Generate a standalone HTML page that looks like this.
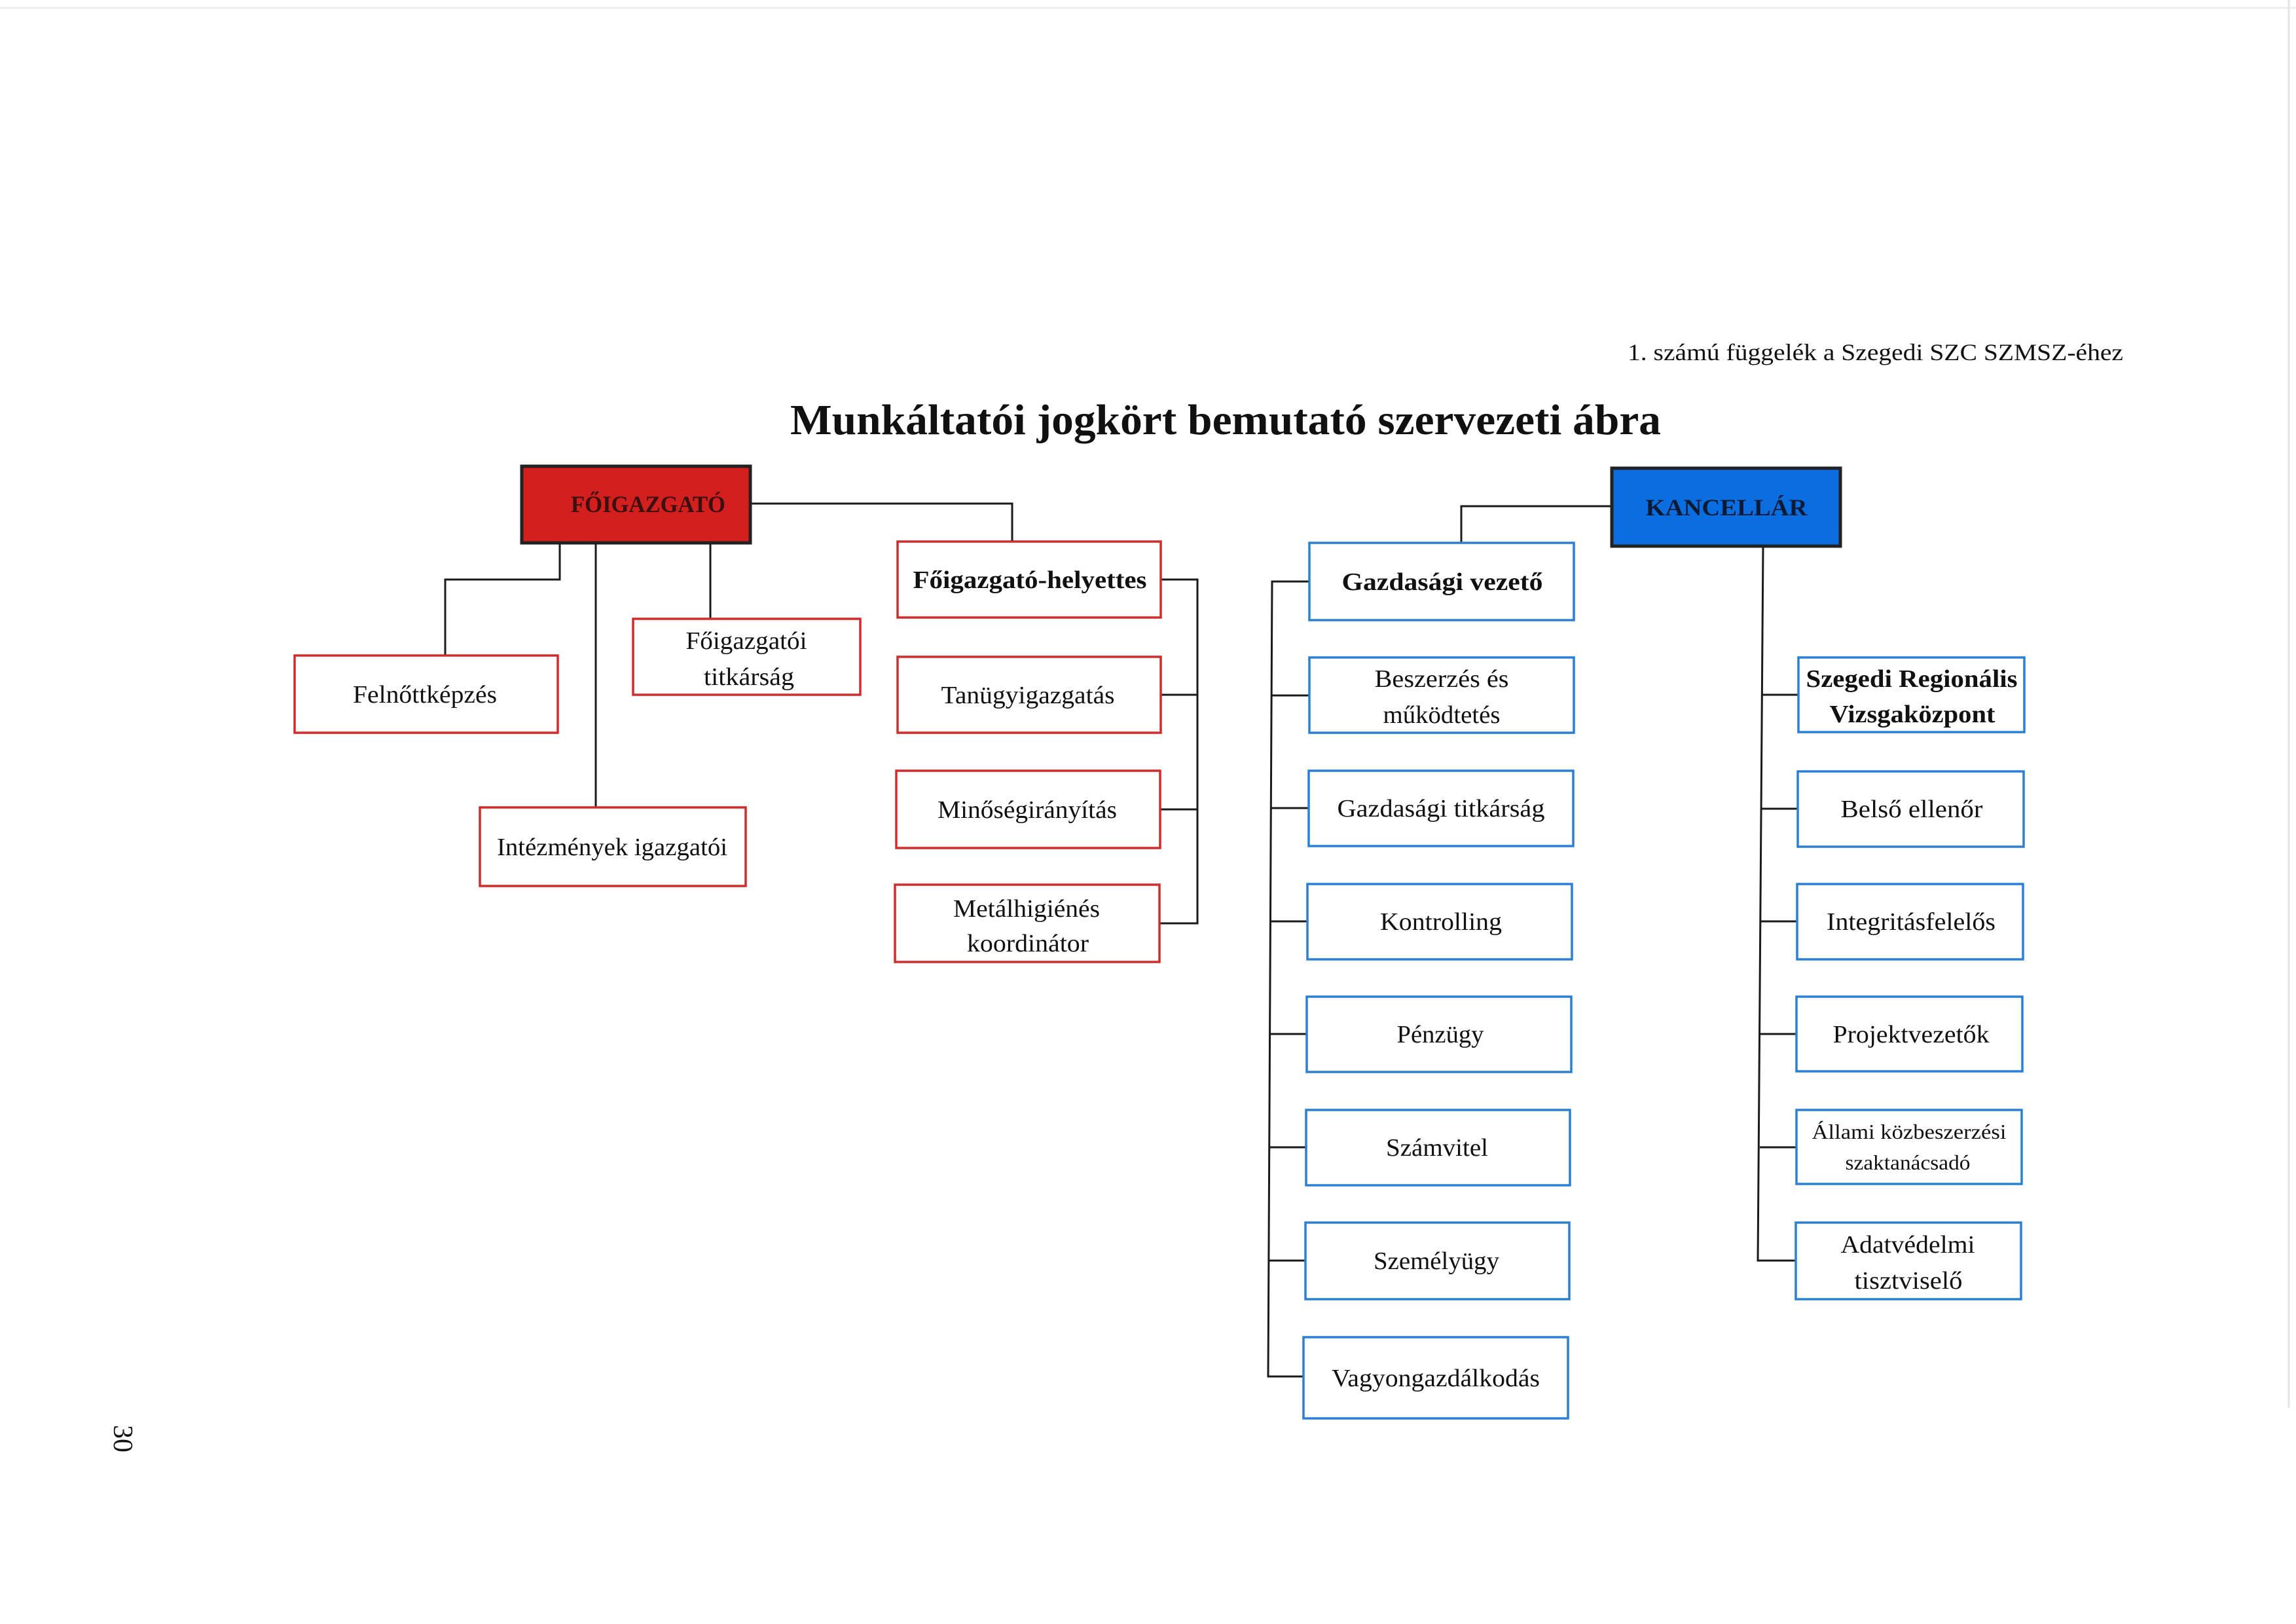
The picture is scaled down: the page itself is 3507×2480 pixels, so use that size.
<!DOCTYPE html>
<html><head><meta charset="utf-8">
<style>
html,body{margin:0;padding:0;background:#fff;}
svg{display:block;}
text{font-family:"Liberation Serif","DejaVu Serif",serif;fill:#111;}
.r{fill:#fff;stroke:#d62a2a;stroke-width:3.5;}
.b{fill:#fff;stroke:#2a7fd6;stroke-width:3.5;}
.l{stroke:#1a1a1a;stroke-width:3;fill:none;}
.t{font-size:38px;}
.bd{font-size:38px;font-weight:bold;}
</style></head>
<body>
<svg width="3507" height="2480" viewBox="0 0 3507 2480" xmlns="http://www.w3.org/2000/svg">
<rect width="3507" height="2480" fill="#fff"/>
<line x1="0" y1="12" x2="3507" y2="12" stroke="#eee" stroke-width="3"/>
<line x1="3496" y1="0" x2="3496" y2="2150" stroke="#e4e4e4" stroke-width="3"/>

<text x="2486" y="550" font-size="36" textLength="757" lengthAdjust="spacingAndGlyphs">1. számú függelék a Szegedi SZC SZMSZ-éhez</text>
<text x="1207" y="663" font-size="66" font-weight="bold" textLength="1330" lengthAdjust="spacingAndGlyphs">Munkáltatói jogkört bemutató szervezeti ábra</text>

<text transform="translate(174,2197) rotate(90)" font-size="42" text-anchor="middle">30</text>

<g transform="translate(0,-5)">
<!-- connectors left -->
<path class="l" d="M1146 774 H1546 V832"/>
<path class="l" d="M855 834 V890 H680 V1006"/>
<path class="l" d="M910 834 V1238"/>
<path class="l" d="M1085 834 V950"/>
<path class="l" d="M1773 890 H1829 V1415 H1771"/>
<path class="l" d="M1773 1066 H1829"/>
<path class="l" d="M1772 1241 H1829"/>

<rect x="797" y="717" width="349" height="117" fill="#d41f1f" stroke="#222" stroke-width="5"/>
<text x="990" y="787" font-size="36" font-weight="bold" text-anchor="middle" textLength="236" lengthAdjust="spacingAndGlyphs" style="fill:#3a1010">FŐIGAZGATÓ</text>

<rect class="r" x="1371" y="832" width="402" height="116"/>
<text class="bd" x="1573" y="903" text-anchor="middle" textLength="357" lengthAdjust="spacingAndGlyphs">Főigazgató-helyettes</text>
<rect class="r" x="450" y="1006" width="402" height="118"/>
<text class="t" x="649" y="1078" text-anchor="middle" textLength="220" lengthAdjust="spacingAndGlyphs">Felnőttképzés</text>
<rect class="r" x="967" y="950" width="347" height="116"/>
<text class="t" x="1140" y="996" text-anchor="middle" textLength="185" lengthAdjust="spacingAndGlyphs">Főigazgatói</text>
<text class="t" x="1144" y="1051" text-anchor="middle" textLength="138" lengthAdjust="spacingAndGlyphs">titkárság</text>
<rect class="r" x="733" y="1238" width="406" height="120"/>
<text class="t" x="935" y="1311" text-anchor="middle" textLength="352" lengthAdjust="spacingAndGlyphs">Intézmények igazgatói</text>
<rect class="r" x="1371" y="1008" width="402" height="116"/>
<text class="t" x="1570" y="1079" text-anchor="middle" textLength="265" lengthAdjust="spacingAndGlyphs">Tanügyigazgatás</text>
<rect class="r" x="1369" y="1182" width="403" height="118"/>
<text class="t" x="1569" y="1254" text-anchor="middle" textLength="274" lengthAdjust="spacingAndGlyphs">Minőségirányítás</text>
<rect class="r" x="1367" y="1356" width="404" height="118"/>
<text class="t" x="1568" y="1405" text-anchor="middle" textLength="224" lengthAdjust="spacingAndGlyphs">Metálhigiénés</text>
<text class="t" x="1570" y="1458" text-anchor="middle" textLength="186" lengthAdjust="spacingAndGlyphs">koordinátor</text>
</g>

<!-- connectors right -->
<path class="l" d="M2460 773 H2232 V829"/>
<path class="l" d="M2000 888 H1943 L1937 2102 H1991"/>
<path class="l" d="M1942 1062 H2000"/>
<path class="l" d="M1941 1234 H1999"/>
<path class="l" d="M1940 1407 H1998"/>
<path class="l" d="M1939 1579 H1997"/>
<path class="l" d="M1938 1752 H1995"/>
<path class="l" d="M1937 1925 H1994"/>
<path class="l" d="M2693 834 L2685 1925 H2743"/>
<path class="l" d="M2692 1061 H2747"/>
<path class="l" d="M2691 1235 H2746"/>
<path class="l" d="M2690 1407 H2745"/>
<path class="l" d="M2689 1579 H2745"/>
<path class="l" d="M2688 1752 H2744"/>

<rect x="2462" y="715" width="349" height="119" fill="#0a6ee0" stroke="#222" stroke-width="5"/>
<text x="2637" y="787" font-size="36" font-weight="bold" text-anchor="middle" textLength="247" lengthAdjust="spacingAndGlyphs" style="fill:#0c1a33">KANCELLÁR</text>

<!-- blue boxes left column -->
<rect class="b" x="2000" y="829" width="404" height="118"/>
<text class="bd" x="2203" y="901" text-anchor="middle" textLength="307" lengthAdjust="spacingAndGlyphs">Gazdasági vezető</text>
<rect class="b" x="2000" y="1004" width="404" height="115"/>
<text class="t" x="2202" y="1049" text-anchor="middle" textLength="205" lengthAdjust="spacingAndGlyphs">Beszerzés és</text>
<text class="t" x="2202" y="1104" text-anchor="middle" textLength="179" lengthAdjust="spacingAndGlyphs">működtetés</text>
<rect class="b" x="1999" y="1177" width="404" height="115"/>
<text class="t" x="2201" y="1247" text-anchor="middle" textLength="317" lengthAdjust="spacingAndGlyphs">Gazdasági titkárság</text>
<rect class="b" x="1997" y="1350" width="404" height="115"/>
<text class="t" x="2201" y="1420" text-anchor="middle" textLength="186" lengthAdjust="spacingAndGlyphs">Kontrolling</text>
<rect class="b" x="1996" y="1522" width="404" height="115"/>
<text class="t" x="2200" y="1592" text-anchor="middle" textLength="133" lengthAdjust="spacingAndGlyphs">Pénzügy</text>
<rect class="b" x="1995" y="1695" width="403" height="115"/>
<text class="t" x="2195" y="1765" text-anchor="middle" textLength="156" lengthAdjust="spacingAndGlyphs">Számvitel</text>
<rect class="b" x="1994" y="1867" width="403" height="117"/>
<text class="t" x="2194" y="1938" text-anchor="middle" textLength="192" lengthAdjust="spacingAndGlyphs">Személyügy</text>
<rect class="b" x="1991" y="2042" width="404" height="124"/>
<text class="t" x="2193" y="2117" text-anchor="middle" textLength="318" lengthAdjust="spacingAndGlyphs">Vagyongazdálkodás</text>

<!-- blue boxes right column -->
<rect class="b" x="2747" y="1004" width="345" height="114"/>
<text class="bd" x="2920" y="1049" text-anchor="middle" textLength="323" lengthAdjust="spacingAndGlyphs">Szegedi Regionális</text>
<text class="bd" x="2921" y="1103" text-anchor="middle" textLength="253" lengthAdjust="spacingAndGlyphs">Vizsgaközpont</text>
<rect class="b" x="2746" y="1178" width="345" height="115"/>
<text class="t" x="2920" y="1248" text-anchor="middle" textLength="217" lengthAdjust="spacingAndGlyphs">Belső ellenőr</text>
<rect class="b" x="2745" y="1350" width="345" height="115"/>
<text class="t" x="2919" y="1420" text-anchor="middle" textLength="258" lengthAdjust="spacingAndGlyphs">Integritásfelelős</text>
<rect class="b" x="2744" y="1522" width="345" height="114"/>
<text class="t" x="2919" y="1592" text-anchor="middle" textLength="239" lengthAdjust="spacingAndGlyphs">Projektvezetők</text>
<rect class="b" x="2744" y="1695" width="344" height="113"/>
<text x="2916" y="1739" font-size="32" text-anchor="middle" textLength="297" lengthAdjust="spacingAndGlyphs">Állami közbeszerzési</text>
<text x="2914" y="1786" font-size="32" text-anchor="middle" textLength="191" lengthAdjust="spacingAndGlyphs">szaktanácsadó</text>
<rect class="b" x="2743" y="1867" width="344" height="117"/>
<text class="t" x="2914" y="1913" text-anchor="middle" textLength="205" lengthAdjust="spacingAndGlyphs">Adatvédelmi</text>
<text class="t" x="2915" y="1968" text-anchor="middle" textLength="165" lengthAdjust="spacingAndGlyphs">tisztviselő</text>
</svg>
</body></html>
